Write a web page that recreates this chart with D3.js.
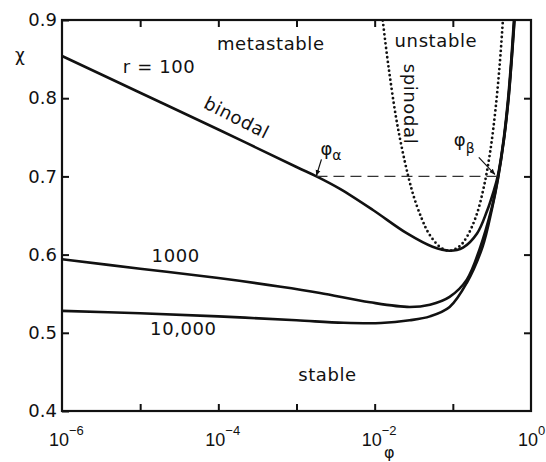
<!DOCTYPE html>
<html>
<head>
<meta charset="utf-8">
<script src="https://cdn.jsdelivr.net/npm/d3@7"></script>
<style>
  body { margin: 0; background: #fff; }
  svg { display: block; font-family: "DejaVu Sans", sans-serif; }
</style>
</head>
<body>
<svg id="chart" width="546" height="462"></svg>
<script>
// --- data: [phi, chi] ---
const binodal100 = [
  [1e-6, 0.854], [1e-5, 0.807], [1e-4, 0.760], [1e-3, 0.712], [0.0018, 0.700],
  [0.0036, 0.684], [0.0095, 0.657], [0.026, 0.627], [0.055, 0.610], [0.091, 0.605],
  [0.135, 0.609], [0.204, 0.627], [0.272, 0.655], [0.33, 0.680], [0.375, 0.700],
  [0.45, 0.750], [0.51, 0.800], [0.56, 0.850], [0.605, 0.900]
];
const binodal1000 = [
  [1e-6, 0.594], [1e-5, 0.582], [1e-4, 0.570], [6.3e-4, 0.559], [0.002, 0.551],
  [0.0087, 0.539], [0.028, 0.533], [0.051, 0.536], [0.091, 0.546], [0.151, 0.568],
  [0.22, 0.607], [0.315, 0.660], [0.376, 0.697], [0.451, 0.748], [0.515, 0.800],
  [0.565, 0.850], [0.612, 0.900]
];
const binodal10000 = [
  [1e-6, 0.528], [1e-5, 0.525], [1e-4, 0.521], [1e-3, 0.516], [0.004, 0.5128],
  [0.012, 0.5125], [0.028, 0.516], [0.051, 0.521], [0.091, 0.533], [0.151, 0.564],
  [0.24, 0.610], [0.316, 0.658], [0.378, 0.697], [0.452, 0.748], [0.517, 0.800],
  [0.567, 0.850], [0.616, 0.900]
];
const spinodal100 = [
  [0.0125, 0.905], [0.015, 0.841], [0.02, 0.760], [0.03, 0.682], [0.04, 0.646],
  [0.05, 0.626], [0.07, 0.609], [0.091, 0.605], [0.12, 0.610], [0.15, 0.622],
  [0.2, 0.650], [0.25, 0.687], [0.3, 0.731], [0.35, 0.784], [0.4, 0.846], [0.44, 0.904]
];
const tiePhi = [0.0018, 0.376];   // phi_alpha, phi_beta
const tieChi = 0.7;

const xTicks = [1e-6, 1e-5, 1e-4, 1e-3, 1e-2, 1e-1, 1];
const xLabelExps = [-6, -4, -2, 0];
const yTicks = [0.4, 0.5, 0.6, 0.7, 0.8, 0.9];

// --- layout ---
const W = 546, H = 462;
const margin = {top: 20, right: 15, bottom: 51, left: 62};

const svg = d3.select('#chart');

const x = d3.scaleLog().domain([1e-6, 1]).range([margin.left, W - margin.right]);
const y = d3.scaleLinear().domain([0.4, 0.9]).range([H - margin.bottom, margin.top]);

svg.append('defs').append('clipPath').attr('id', 'plot')
  .append('rect')
  .attr('x', margin.left).attr('y', margin.top)
  .attr('width', x.range()[1] - margin.left)
  .attr('height', y.range()[0] - margin.top);

svg.append('defs').append('marker')
  .attr('id', 'arr').attr('viewBox', '0 0 10 10')
  .attr('refX', 9).attr('refY', 5)
  .attr('markerWidth', 6).attr('markerHeight', 6)
  .attr('markerUnits', 'userSpaceOnUse')
  .attr('orient', 'auto')
  .append('path').attr('d', 'M0,1 L10,5 L0,9 Z').attr('fill', '#111');

// ticks (inward, no labels)
const tickLen = 7;
const styleAxis = g => {
  g.select('.domain').remove();
  g.selectAll('.tick line').attr('stroke', '#111').attr('stroke-width', 2);
};
svg.append('g').attr('transform', `translate(0,${y(0.4)})`)
  .call(d3.axisBottom(x).tickValues(xTicks.slice(1, -1)).tickSizeInner(-tickLen).tickSizeOuter(0).tickFormat(''))
  .call(styleAxis);
svg.append('g').attr('transform', `translate(0,${y(0.9)})`)
  .call(d3.axisTop(x).tickValues(xTicks.slice(1, -1)).tickSizeInner(-tickLen).tickSizeOuter(0).tickFormat(''))
  .call(styleAxis);
svg.append('g').attr('transform', `translate(${x(1)},0)`)
  .call(d3.axisRight(y).tickValues(yTicks.slice(1, -1)).tickSizeInner(-tickLen).tickSizeOuter(0).tickFormat(''))
  .call(styleAxis);
const yAxis = svg.append('g').attr('transform', `translate(${x(1e-6)},0)`)
  .call(d3.axisLeft(y).tickValues(yTicks).tickSizeInner(-tickLen).tickSizeOuter(0)
    .tickPadding(5).tickFormat(d3.format('.1f')))
  .call(styleAxis);
yAxis.selectAll('.tick text')
  .attr('font-family', '"DejaVu Sans", sans-serif')
  .attr('font-size', 18).attr('fill', '#111');

// frame
svg.append('rect')
  .attr('x', x(1e-6)).attr('y', y(0.9))
  .attr('width', x(1) - x(1e-6)).attr('height', y(0.4) - y(0.9))
  .attr('fill', 'none').attr('stroke', '#111').attr('stroke-width', 2.2);

// x tick labels 10^n
const xl = svg.append('g').attr('font-family', '"Liberation Sans", Arial, sans-serif')
  .attr('font-size', 18).attr('fill', '#111');
xLabelExps.forEach(e => {
  const t = xl.append('text').attr('x', x(Math.pow(10, e)) - 13).attr('y', 446);
  t.append('tspan').text('10');
  t.append('tspan').attr('dy', -11).attr('font-size', 13).text(e < 0 ? '\u2212' + (-e) : e);
});

// axis titles
svg.append('text').attr('x', 15).attr('y', 61).attr('font-size', 17).attr('fill', '#111').text('χ');
svg.append('text').attr('x', 384).attr('y', 458).attr('font-size', 16).attr('fill', '#111').text('φ');

// curves
const line = d3.line()
  .x(d => x(d[0])).y(d => y(d[1]))
  .curve(d3.curveCatmullRom.alpha(0.5));

const plot = svg.append('g').attr('clip-path', 'url(#plot)');

[binodal100, binodal1000, binodal10000].forEach(s => {
  plot.append('path').datum(s).attr('d', line)
    .attr('fill', 'none').attr('stroke', '#111').attr('stroke-width', 2.6);
});

plot.append('path').datum(spinodal100).attr('d', line)
  .attr('fill', 'none').attr('stroke', '#111').attr('stroke-width', 2.8)
  .attr('stroke-linecap', 'round').attr('stroke-dasharray', '0 4.6');

// tie line phi_alpha -- phi_beta
plot.append('line')
  .attr('x1', x(tiePhi[0])).attr('x2', x(tiePhi[1]))
  .attr('y1', y(tieChi)).attr('y2', y(tieChi))
  .attr('stroke', '#333').attr('stroke-width', 1.3).attr('stroke-dasharray', '11 6');

// leader arrows
const pa = [x(tiePhi[0]), y(tieChi)], pb = [x(tiePhi[1]), y(tieChi)];
svg.append('line')
  .attr('x1', pa[0] + 5).attr('y1', pa[1] - 17).attr('x2', pa[0]).attr('y2', pa[1] - 1)
  .attr('stroke', '#111').attr('stroke-width', 1.2).attr('marker-end', 'url(#arr)');
svg.append('line')
  .attr('x1', pb[0] - 19).attr('y1', pb[1] - 19).attr('x2', pb[0] - 3).attr('y2', pb[1] - 2)
  .attr('stroke', '#111').attr('stroke-width', 1.2).attr('marker-end', 'url(#arr)');

// text annotations
const ann = svg.append('g').attr('fill', '#111').attr('font-size', 18).attr('letter-spacing', 0.6);
const label = (txt, phi, chi) => ann.append('text').attr('x', x(phi)).attr('y', y(chi)).text(txt);

label('metastable', 9.6e-5, 0.862);
label('unstable', 0.018, 0.865);
label('r = 100', 6.0e-6, 0.832);
label('1000', 1.4e-5, 0.591);
label('10,000', 1.34e-5, 0.497);
label('stable', 1.05e-3, 0.438);

ann.append('text')
  .attr('transform', `translate(${x(1.58e-4)},${y(0.768)}) rotate(27)`)
  .attr('text-anchor', 'middle').text('binodal');
ann.append('text')
  .attr('transform', `translate(${x(0.0283) - 6},${y(0.7926)}) rotate(90)`)
  .attr('text-anchor', 'middle').text('spinodal');

const phiA = ann.append('text').attr('x', pa[0] + 4).attr('y', pa[1] - 21).attr('letter-spacing', 0);
phiA.append('tspan').text('φ');
phiA.append('tspan').attr('dy', 5).attr('font-size', 14).text('α');
const phiB = ann.append('text').attr('x', pb[0] - 44).attr('y', pb[1] - 30).attr('letter-spacing', 0);
phiB.append('tspan').text('φ');
phiB.append('tspan').attr('dy', 7).attr('font-size', 14).text('β');
</script>
</body>
</html>
